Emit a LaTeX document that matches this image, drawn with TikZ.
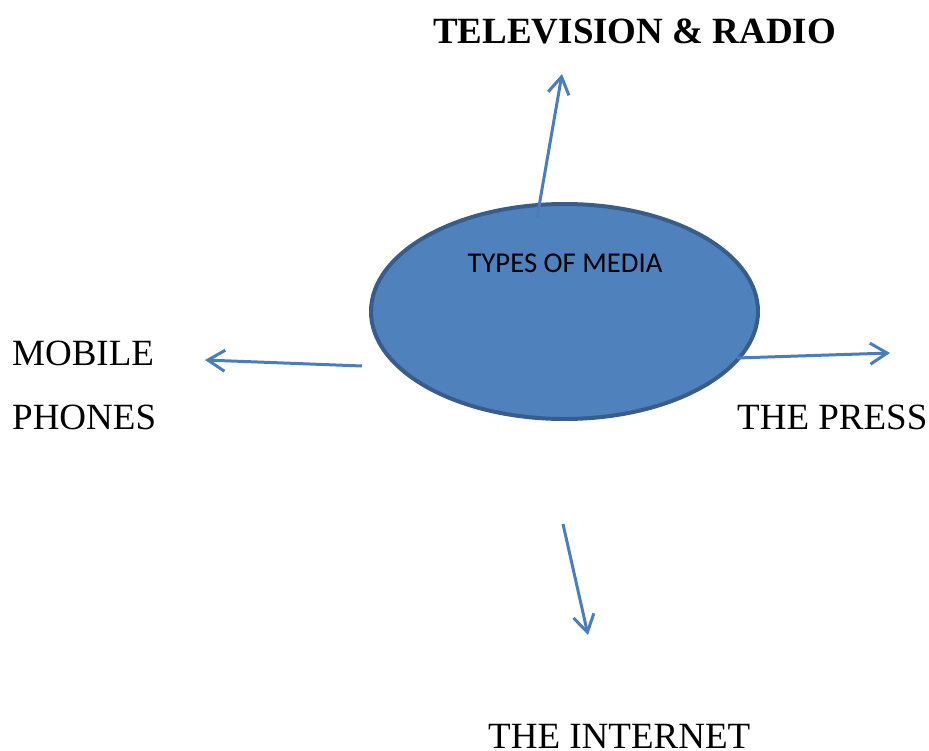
\documentclass[tikz,border=0pt]{standalone}
\usepackage{fontspec}
\setmainfont{Liberation Serif}
\newfontfamily\carlitofont{Carlito}
\usetikzlibrary{arrows.meta,shapes.geometric}
\definecolor{fillblue}{HTML}{4F81BD}
\definecolor{edgeblue}{HTML}{385D8A}
\definecolor{arrowblue}{HTML}{4A7EBB}
\begin{document}
\begin{tikzpicture}[x=1pt,y=-1pt,
  conn/.style={draw=arrowblue, line width=3pt, -{Straight Barb[length=17pt,width=21pt]}},
  lbl/.style={font=\fontsize{37}{40}\selectfont, inner sep=0pt, anchor=base west},
  bubble/.style={ellipse, fill=fillblue, draw=edgeblue, line width=4pt, minimum width=387pt, minimum height=215pt, inner sep=0pt}]
\useasboundingbox (0,0) rectangle (929,751);
\node[bubble] (media) at (564.5,311.5) {};
\node[inner sep=0pt, anchor=base, font=\carlitofont\fontsize{28.7}{30}\selectfont] (mediatext) at (565,273) {TYPES OF MEDIA};
\node[lbl, font=\bfseries\fontsize{37}{40}\selectfont] (tv) at (433,44) {TELEVISION \& RADIO};
\node[lbl] (mobile) at (12,365) {MOBILE};
\node[lbl] (phones) at (12,429) {PHONES};
\node[lbl] (press) at (737,429) {THE PRESS};
\node[lbl] (internet) at (488,748.5) {THE INTERNET};
\coordinate (upS) at (537,218);
\coordinate (upE) at (562,74);
\coordinate (leftS) at (362,366);
\coordinate (leftE) at (205,360);
\coordinate (rightS) at (737,358);
\coordinate (rightE) at (890,353);
\coordinate (downS) at (563,524);
\coordinate (downE) at (588,635);
\draw[conn] (upS) -- (upE);
\draw[conn] (leftS) -- (leftE);
\draw[conn] (rightS) -- (rightE);
\draw[conn] (downS) -- (downE);
\end{tikzpicture}
\end{document}
